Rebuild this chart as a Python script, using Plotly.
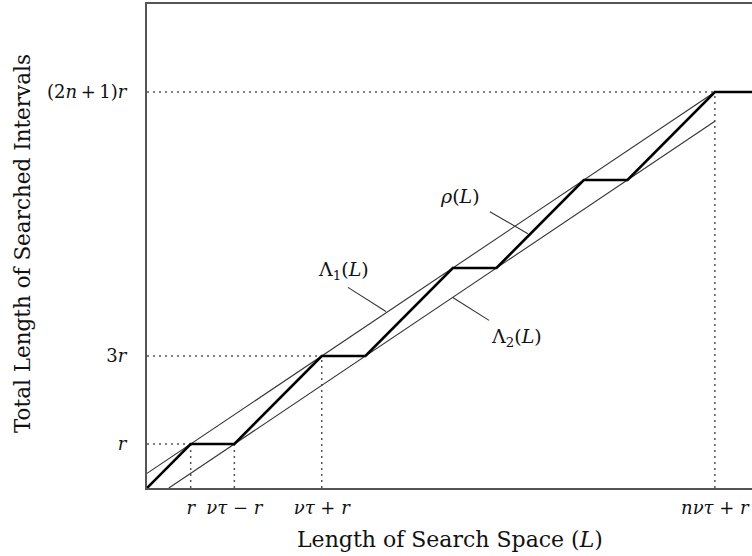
import plotly.graph_objects as go

# ---- data (in units of r; v*tau = 3r, n = 4) ----
rho_x = [0, 1, 2, 4, 5, 7, 8, 10, 11, 13, 13.85]
rho_y = [0, 1, 1, 3, 3, 5, 5, 7, 7, 9, 9]

lam1_x = [0, 13]
lam1_y = [1/3, 9]
lam2_x = [0.5, 13]
lam2_y = [0, 25/3]

x_tick_vals = [1, 2, 4, 13]
x_tick_text = ["<i>r</i>", "<i>ντ</i> − <i>r</i>", "<i>ντ</i> + <i>r</i>", "<i>nντ</i> + <i>r</i>"]
y_tick_vals = [1, 3, 9]
y_tick_text = ["<i>r</i>", "3<i>r</i>", "(2<i>n</i>\u2009+\u20091)<i>r</i>"]

# dotted guide lines: (x0, y0, x1, y1)
guides = [
    (0, 1, 1, 1), (0, 3, 4, 3), (0, 9, 13, 9),
    (1, 0, 1, 1), (2, 0, 2, 1), (4, 0, 4, 3), (13, 0, 13, 9),
]

# labels and leader lines
labels = ["<i>ρ</i>(<i>L</i>)", "Λ<sub>1</sub>(<i>L</i>)", "Λ<sub>2</sub>(<i>L</i>)"]
label_x = [7.16, 4.49, 8.45]
label_y = [6.63, 4.94, 3.42]
leader_x = [[7.85, 8.72], [4.60, 5.47], [7.00, 7.83]]
leader_y = [[6.28, 5.78], [4.56, 4.01], [4.33, 3.81]]

FONT = "DejaVu Serif"

fig = go.Figure()

for (x0, y0, x1, y1) in guides:
    fig.add_trace(go.Scatter(x=[x0, x1], y=[y0, y1], mode="lines",
                             line=dict(color="#555", width=1.5, dash="2px,4px"),
                             showlegend=False, hoverinfo="skip"))

fig.add_trace(go.Scatter(x=lam1_x, y=lam1_y, mode="lines",
                         line=dict(color="#333", width=1.1), showlegend=False))
fig.add_trace(go.Scatter(x=lam2_x, y=lam2_y, mode="lines",
                         line=dict(color="#333", width=1.1), showlegend=False))

for lx, ly in zip(leader_x, leader_y):
    fig.add_trace(go.Scatter(x=lx, y=ly, mode="lines",
                             line=dict(color="#333", width=1.1), showlegend=False))

fig.add_trace(go.Scatter(x=rho_x, y=rho_y, mode="lines",
                         line=dict(color="black", width=2.6), showlegend=False))

for t, x, y in zip(labels, label_x, label_y):
    fig.add_annotation(x=x, y=y, text=t, showarrow=False,
                       xanchor="center", yanchor="middle",
                       font=dict(family=FONT, size=19, color="#111"))

fig.add_annotation(xref="paper", yref="paper", x=0.5, y=-0.107,
                   xanchor="center", yanchor="middle",
                   text="Length of Search Space (<i>L</i>)", showarrow=False,
                   font=dict(family=FONT, size=22, color="#111"))
fig.add_annotation(xref="paper", yref="paper", x=-0.2066, y=0.504,
                   xanchor="center", yanchor="middle",
                   text="Total Length of Searched Intervals", showarrow=False,
                   textangle=-90,
                   font=dict(family=FONT, size=21.5, color="#111"))

fig.update_layout(
    width=752, height=556,
    margin=dict(l=147, r=0, t=4, b=68),
    paper_bgcolor="white", plot_bgcolor="white",
    xaxis=dict(range=[0, 13.85], showgrid=False, zeroline=False,
               showline=True, linecolor="#555", linewidth=2, mirror=True,
               tickmode="array", tickvals=x_tick_vals, ticktext=x_tick_text,
               ticks="outside", ticklen=2, tickcolor="rgba(0,0,0,0)",
               tickfont=dict(family=FONT, size=18, color="#111")),
    yaxis=dict(range=[0, 11], showgrid=False, zeroline=False,
               showline=True, linecolor="#555", linewidth=2, mirror=False,
               tickmode="array", tickvals=y_tick_vals, ticktext=y_tick_text,
               ticks="outside", ticklen=15, tickcolor="rgba(0,0,0,0)",
               tickfont=dict(family=FONT, size=18, color="#111")),
)

fig.write_html("out.html")
